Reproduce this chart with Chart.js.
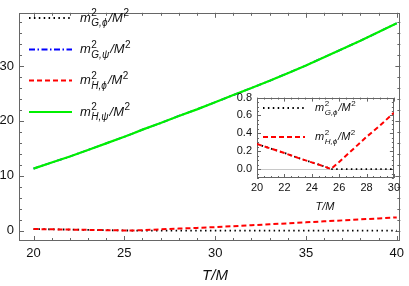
<!DOCTYPE html>
<html><head><meta charset="utf-8">
<script src="https://cdn.jsdelivr.net/npm/chart.js@4"></script>
<style>
html,body{margin:0;padding:0;background:#fff;}
#wrap{position:relative;width:409px;height:286px;}
#main{position:absolute;left:0;top:0;}
#inset{position:absolute;left:215px;top:86px;}
</style></head>
<body><div id="wrap"><canvas id="main" width="409" height="286"></canvas><canvas id="inset" width="188" height="128"></canvas></div>
<script>
// ---- data ----
const T      = [20,21,22,23,24,25,25.4,26,27,28,29,30,31,32,33,34,35,36,37,38,39,40];
const mG_phi = [0.28,0.23,0.18,0.125,0.075,0.025,0,0,0,0,0,0,0,0,0,0,0,0,0,0,0,0];
const mG_psi = [11.3,12.4,13.5,14.7,15.9,17.1,17.6,18.4,19.6,20.9,22.1,23.4,24.7,26.0,27.3,28.7,30.1,31.6,33.1,34.6,36.2,37.8];
const mH_phi = [0.28,0.23,0.18,0.125,0.075,0.025,0,0.08,0.22,0.36,0.49,0.63,0.8,0.97,1.14,1.32,1.5,1.68,1.86,2.04,2.22,2.4];
const mH_psi = [11.3,12.4,13.5,14.7,15.9,17.1,17.6,18.4,19.6,20.9,22.1,23.4,24.7,26.0,27.3,28.7,30.1,31.6,33.1,34.6,36.2,37.8];
const subs   = ["G,\u03D5","G,\u03C8","H,\u03D5","H,\u03C8"];
const xTicksMain = [20,25,30,35,40];
const yTicksMain = [0,10,20,30];
const xTicksInset = [20,22,24,26,28,30];
const yTicksInset = [0,0.2,0.4,0.6,0.8];

const FONT = "Arial, 'Liberation Sans', sans-serif";
const pts = arr => T.map((t,i)=>({x:t,y:arr[i]}));
const styles = [
  {color:'#000000', width:1.8, dash:[1.5,3.4]},
  {color:'#0000ff', width:1.8, dash:[6,2.5,1.5,2.5]},
  {color:'#ff0000', width:2, dash:[5,3]},
  {color:'#00f000', width:2.2, dash:[]}
];
function ds(arr, k, order){
  const s = styles[k];
  return {data:pts(arr), borderColor:s.color, borderWidth:s.width, borderDash:s.dash,
          pointRadius:0, fill:false, tension:0, order:order};
}

function drawLabel(ctx, x, ymid, sub, s){
  ctx.save();
  ctx.fillStyle = '#111';
  ctx.textBaseline = 'alphabetic';
  ctx.textAlign = 'left';
  const b = ymid + s*0.3;
  ctx.font = 'italic '+s+'px '+FONT;
  ctx.fillText('m', x, b);
  x += ctx.measureText('m').width + 0.5;
  const ss = Math.round(s*0.75);
  ctx.font = ss+'px '+FONT;
  ctx.fillText('2', x, b - s*0.45);
  const w2 = ctx.measureText('2').width;
  ctx.font = 'italic '+ss+'px '+FONT;
  ctx.fillText(sub, x, b + s*0.32);
  const ws = ctx.measureText(sub).width;
  x += Math.max(w2, ws) + 1;
  ctx.font = 'italic '+s+'px '+FONT;
  ctx.fillText('/M', x, b);
  x += ctx.measureText('/M').width + 0.5;
  ctx.font = ss+'px '+FONT;
  ctx.fillText('2', x, b - s*0.45);
  ctx.restore();
}

function frameTicks(chart, o){
  const {ctx, chartArea:a, scales} = chart;
  const xs = scales.x, ys = scales.y;
  ctx.save();
  ctx.strokeStyle = o.frame; ctx.lineWidth = 1;
  ctx.strokeRect(Math.round(a.left)+0.5, Math.round(a.top)+0.5, Math.round(a.right-a.left)-1, Math.round(a.bottom-a.top)-1);
  ctx.beginPath();
  const eps=1e-6;
  for (let v = o.xMinorStart; v <= xs.max+eps; v += o.xMinor){
    if (v < xs.min-eps) continue;
    const major = Math.abs(v/o.xMajor - Math.round(v/o.xMajor)) < 1e-6;
    const L = major ? o.majLen : o.minLen;
    const px = Math.round(xs.getPixelForValue(v))+0.5;
    ctx.moveTo(px, a.bottom); ctx.lineTo(px, a.bottom-L);
    ctx.moveTo(px, a.top); ctx.lineTo(px, a.top+L);
  }
  for (let v = o.yMinorStart; v <= ys.max+eps; v += o.yMinor){
    if (v < ys.min-eps) continue;
    const major = Math.abs(v/o.yMajor - Math.round(v/o.yMajor)) < 1e-6;
    const L = major ? o.majLen : o.minLen;
    const py = Math.round(ys.getPixelForValue(v))+0.5;
    ctx.moveTo(a.left, py); ctx.lineTo(a.left+L, py);
    ctx.moveTo(a.right, py); ctx.lineTo(a.right-L, py);
  }
  ctx.stroke();
  ctx.restore();
}

// ---------- main chart ----------
new Chart(document.getElementById('main'), {
  type:'line',
  data:{datasets:[ds(mG_phi,0,3), ds(mG_psi,1,2), ds(mH_phi,2,1), ds(mH_psi,3,0)]},
  options:{
    responsive:false, animation:false, devicePixelRatio:1,
    layout:{padding:{left:0,right:3,top:1,bottom:0}},
    plugins:{legend:{display:false}, tooltip:{enabled:false}},
    scales:{
      x:{type:'linear', min:19.2, max:40.2,
         afterFit:s=>{s.height=45;},
         afterBuildTicks:s=>{s.ticks = xTicksMain.map(v=>({value:v}));},
         ticks:{color:'#111', font:{family:FONT,size:13}, padding:5, maxRotation:0, autoSkip:false, callback:v=>String(v)},
         grid:{display:false, drawTicks:false}, border:{display:false}},
      y:{type:'linear', min:-1.9, max:39.7,
         afterFit:s=>{s.width=19;},
         afterBuildTicks:s=>{s.ticks = yTicksMain.map(v=>({value:v}));},
         ticks:{color:'#111', font:{family:FONT,size:13}, padding:5, autoSkip:false, callback:v=>String(v)},
         grid:{display:false, drawTicks:false}, border:{display:false}}
    }
  },
  plugins:[{
    id:'deco',
    beforeDatasetsDraw(chart){
      frameTicks(chart,{frame:'#666', xMinorStart:20, xMinor:1, xMajor:5, yMinorStart:0, yMinor:2, yMajor:10, majLen:5, minLen:3});
    },
    afterDraw(chart){
      const ctx = chart.ctx;
      const ys = [18, 49.5, 80.5, 112];
      for (let k=0;k<4;k++){
        const s = styles[k];
        ctx.save();
        ctx.strokeStyle = s.color; ctx.lineWidth = s.width; ctx.setLineDash(s.dash);
        ctx.beginPath(); ctx.moveTo(29, ys[k]); ctx.lineTo(72, ys[k]); ctx.stroke();
        ctx.restore();
        drawLabel(ctx, 80, ys[k], subs[k], 13);
      }
      ctx.save();
      ctx.fillStyle='#111'; ctx.font='italic 15px '+FONT; ctx.textAlign='center'; ctx.textBaseline='middle';
      ctx.fillText('T/M', 215, 276);
      ctx.restore();
    }
  }]
});

// ---------- inset chart ----------
new Chart(document.getElementById('inset'), {
  type:'line',
  data:{datasets:[ds(mG_phi,0,1), ds(mH_phi,2,0)]},
  options:{
    responsive:false, animation:false, devicePixelRatio:1,
    layout:{padding:{left:0,right:9,top:7,bottom:0}},
    plugins:{legend:{display:false}, tooltip:{enabled:false}},
    scales:{
      x:{type:'linear', min:20, max:30,
         afterFit:s=>{s.height=36;},
         afterBuildTicks:s=>{s.ticks = xTicksInset.map(v=>({value:v}));},
         ticks:{color:'#111', font:{family:FONT,size:11}, padding:3, maxRotation:0, autoSkip:false, callback:v=>String(v)},
         grid:{display:false, drawTicks:false}, border:{display:false}},
      y:{type:'linear', min:-0.1, max:0.8,
         afterFit:s=>{s.width=42;},
         afterBuildTicks:s=>{s.ticks = yTicksInset.map(v=>({value:v}));},
         ticks:{color:'#111', font:{family:FONT,size:11}, padding:5, autoSkip:false, callback:v=>Number(v).toFixed(1)},
         grid:{display:false, drawTicks:false}, border:{display:false}}
    }
  },
  plugins:[{
    id:'deco2',
    beforeDatasetsDraw(chart){
      const {ctx, chartArea:a, scales} = chart;
      ctx.save();
      ctx.fillStyle='#fff'; ctx.fillRect(a.left,a.top,a.right-a.left,a.bottom-a.top);
      const py = Math.round(scales.y.getPixelForValue(0))+0.5;
      ctx.strokeStyle='#c8c8c8'; ctx.lineWidth=1;
      ctx.beginPath(); ctx.moveTo(a.left,py); ctx.lineTo(a.right,py); ctx.stroke();
      ctx.restore();
      frameTicks(chart,{frame:'#666', xMinorStart:20, xMinor:0.5, xMajor:2, yMinorStart:-0.1, yMinor:0.05, yMajor:0.2, majLen:4, minLen:2});
    },
    afterDraw(chart){
      const ctx = chart.ctx;
      const rows = [[0,22],[2,51]];
      for (const [k,y] of rows){
        const s = styles[k];
        ctx.save();
        ctx.strokeStyle = s.color; ctx.lineWidth = s.width; ctx.setLineDash(s.dash);
        ctx.beginPath(); ctx.moveTo(48, y); ctx.lineTo(90, y); ctx.stroke();
        ctx.restore();
        drawLabel(ctx, 100, y, subs[k], 11);
      }
      ctx.save();
      ctx.fillStyle='#111'; ctx.font='italic 11px '+FONT; ctx.textAlign='center'; ctx.textBaseline='middle';
      ctx.fillText('T/M', 110, 121);
      ctx.restore();
    }
  }]
});
</script></body></html>
